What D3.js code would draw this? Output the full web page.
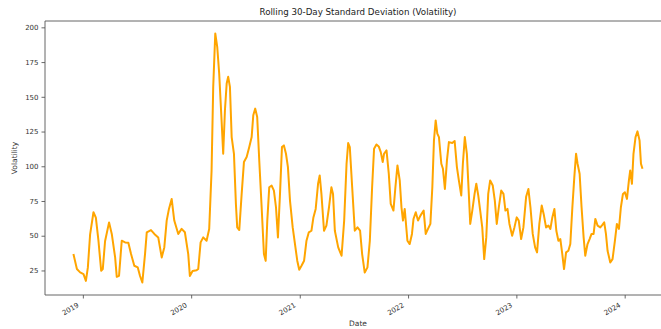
<!DOCTYPE html>
<html>
<head>
<meta charset="utf-8">
<script src="https://cdn.jsdelivr.net/npm/d3@7"></script>
<style>
  body { margin: 0; background: #fff; }
  svg { display: block; font-family: "DejaVu Sans", sans-serif; }
</style>
</head>
<body>
<div id="chart"></div>
<script>
// Dates as decimal years, rolling 30-day std values
const decimalYears = [
  2018.913, 2018.945, 2018.975, 2019.006, 2019.028, 2019.046, 2019.067, 2019.098, 2019.120, 2019.144,
  2019.169, 2019.184, 2019.205, 2019.242, 2019.267, 2019.298, 2019.313, 2019.334, 2019.359, 2019.390,
  2019.420, 2019.445, 2019.475, 2019.507, 2019.528, 2019.549, 2019.574, 2019.590, 2019.629, 2019.660,
  2019.696, 2019.728, 2019.752, 2019.774, 2019.795, 2019.820, 2019.844, 2019.881, 2019.912, 2019.942,
  2019.973, 2019.988, 2020.013, 2020.050, 2020.065, 2020.087, 2020.111, 2020.142, 2020.166, 2020.188,
  2020.203, 2020.222, 2020.240, 2020.258, 2020.280, 2020.295, 2020.311, 2020.327, 2020.341, 2020.357,
  2020.373, 2020.394, 2020.412, 2020.424, 2020.443, 2020.465, 2020.486, 2020.511, 2020.535, 2020.557,
  2020.572, 2020.590, 2020.608, 2020.627, 2020.649, 2020.670, 2020.686, 2020.701, 2020.719, 2020.741,
  2020.762, 2020.781, 2020.799, 2020.818, 2020.836, 2020.854, 2020.873, 2020.891, 2020.910, 2020.935,
  2020.956, 2020.977, 2020.995, 2021.016, 2021.040, 2021.062, 2021.083, 2021.108, 2021.126, 2021.147,
  2021.169, 2021.184, 2021.200, 2021.224, 2021.246, 2021.270, 2021.292, 2021.307, 2021.324, 2021.355,
  2021.386, 2021.410, 2021.432, 2021.447, 2021.462, 2021.484, 2021.508, 2021.533, 2021.557, 2021.576,
  2021.600, 2021.625, 2021.647, 2021.668, 2021.686, 2021.708, 2021.729, 2021.748, 2021.766, 2021.778,
  2021.801, 2021.822, 2021.840, 2021.865, 2021.883, 2021.902, 2021.923, 2021.939, 2021.953, 2021.969,
  2021.994, 2022.015, 2022.036, 2022.050, 2022.071, 2022.092, 2022.114, 2022.144, 2022.163, 2022.184,
  2022.206, 2022.224, 2022.239, 2022.255, 2022.270, 2022.285, 2022.307, 2022.322, 2022.340, 2022.359,
  2022.377, 2022.408, 2022.430, 2022.451, 2022.469, 2022.491, 2022.506, 2022.524, 2022.543, 2022.561,
  2022.574, 2022.593, 2022.614, 2022.630, 2022.648, 2022.666, 2022.685, 2022.703, 2022.722, 2022.740,
  2022.758, 2022.782, 2022.801, 2022.819, 2022.838, 2022.860, 2022.881, 2022.899, 2022.918, 2022.936,
  2022.961, 2022.982, 2023.003, 2023.022, 2023.044, 2023.065, 2023.090, 2023.111, 2023.130, 2023.151,
  2023.173, 2023.191, 2023.212, 2023.234, 2023.252, 2023.274, 2023.296, 2023.314, 2023.332, 2023.351,
  2023.369, 2023.388, 2023.406, 2023.424, 2023.440, 2023.459, 2023.480, 2023.498, 2023.517, 2023.535,
  2023.551, 2023.565, 2023.584, 2023.602, 2023.621, 2023.636, 2023.657, 2023.676, 2023.694, 2023.713,
  2023.729, 2023.750, 2023.775, 2023.796, 2023.811, 2023.827, 2023.842, 2023.867, 2023.888, 2023.910,
  2023.928, 2023.947, 2023.965, 2023.984, 2024.002, 2024.021, 2024.039, 2024.051, 2024.067, 2024.081,
  2024.100, 2024.118, 2024.137, 2024.150, 2024.164
];

const volatility = [
  36.8, 26, 23.6, 22.4, 17.5, 27, 51, 66.9, 63, 46.4,
  24.8, 26, 46, 59.6, 51.3, 34.4, 20.4, 21.2, 46.4, 45.2,
  45, 36.8, 28.4, 27.2, 21, 16.3, 36.8, 52.4, 54.1, 51.3,
  48.8, 34.4, 41.6, 60.9, 69.3, 76.5, 60.9, 51.3, 54.9, 52.5,
  36.8, 21, 24.6, 25.1, 26, 45.2, 48.8, 46.4, 54.9, 97,
  157.1, 195.6, 186, 166.8, 133, 109, 140.3, 159.6, 164.4, 157.1,
  121, 109, 72.9, 56, 54.1, 80.1, 103, 106.6, 113.8, 121,
  136.7, 141.5, 135.5, 104.2, 70.5, 36.8, 31.9, 60.9, 84.9, 86.1,
  82.5, 70.5, 48.8, 80.1, 113.8, 115, 109, 99.4, 75.3, 56,
  44, 32, 25.5, 28.4, 32, 46.4, 52.4, 53.6, 63.2, 69.3,
  87.4, 93.4, 80.1, 53.6, 57.3, 70.5, 84.9, 80.1, 53.6, 41.6,
  35.6, 60.9, 101.8, 116.7, 113.8, 84.9, 53.6, 56, 53.6, 36.8,
  23.5, 27.2, 46.4, 84.9, 112.6, 115.7, 114.3, 110.2, 103, 109,
  111.4, 94.6, 72.9, 68.1, 84.9, 100.6, 89.8, 70.5, 60.9, 69.3,
  46.4, 44, 51.3, 62, 66.9, 60.9, 64.5, 68.1, 51.3, 54.9,
  58.5, 84.9, 118.6, 133, 123.5, 121, 101.8, 98.2, 83.7, 104.2,
  117.4, 116.7, 118.2, 99.4, 89.8, 79, 101.8, 121, 109, 80.1,
  58.5, 68.1, 80.1, 87.4, 79, 68.1, 56, 33.2, 48.8, 80.1,
  89.8, 86.1, 75.3, 58.5, 70.5, 82.5, 80.1, 68.1, 69.3, 58.5,
  50, 56, 63.2, 60.9, 47.6, 56, 78, 83.7, 70.5, 51.3,
  41.6, 38, 58.5, 71.7, 65.7, 56, 57.3, 54.9, 63.2, 69.3,
  53.6, 46.4, 47.6, 36.8, 26, 38, 39.2, 44, 70.5, 92.2,
  109, 101.8, 94.6, 70.5, 48.8, 35.6, 44, 47.6, 51.3, 51.3,
  62.1, 57.3, 56, 58, 59.6, 51.3, 39.2, 30.8, 33.2, 46.4,
  58.5, 54.9, 70.5, 80.1, 81.3, 76.5, 89.8, 97, 87.4, 109,
  121, 125.1, 118.6, 101.8, 98.2
];

const yTicks = [25, 50, 75, 100, 125, 150, 175, 200];
const xTickYears = [2019, 2020, 2021, 2022, 2023, 2024];

function fromDecimalYear(t) {
    const yr = Math.floor(t);
    const start = new Date(yr, 0, 1);
    const end = new Date(yr + 1, 0, 1);
    return new Date(start.getTime() + (t - yr) * (end - start));
}

const data = decimalYears.map((t, i) => ({ date: fromDecimalYear(t), value: volatility[i] }));

const width = 661;
const height = 329;
const plot = { left: 45, right: 671, top: 21, bottom: 295 };

const svg = d3.select("#chart")
    .append("svg")
    .attr("width", width)
    .attr("height", height);

// matplotlib style 5% margins on both axes
const xExt = d3.extent(decimalYears);
const xPad = (xExt[1] - xExt[0]) * 0.05;
const xScale = d3.scaleTime()
    .domain([fromDecimalYear(xExt[0] - xPad), fromDecimalYear(xExt[1] + xPad)])
    .range([plot.left, plot.right]);

const yExt = d3.extent(volatility);
const yPad = (yExt[1] - yExt[0]) * 0.05;
const yScale = d3.scaleLinear()
    .domain([yExt[0] - yPad, yExt[1] + yPad])
    .range([plot.bottom, plot.top]);

// Line
const line = d3.line()
    .x((d) => xScale(d.date))
    .y((d) => yScale(d.value));

svg.append("path")
    .datum(data)
    .attr("fill", "none")
    .attr("stroke", "#FFA500")
    .attr("stroke-width", 2)
    .attr("stroke-linejoin", "round")
    .attr("d", line);

// Y axis
const yAxis = svg.append("g")
    .attr("transform", `translate(${plot.left},0)`)
    .call(d3.axisLeft(yScale).tickValues(yTicks).tickSize(3.5).tickPadding(3))
    .call((g) => g.select(".domain").remove());
yAxis.selectAll("text").attr("font-size", "7px").attr("fill", "#333").attr("font-family", "DejaVu Sans");
yAxis.selectAll("line").attr("stroke", "#444").attr("stroke-width", 0.8);

// X axis, labels rotated like autofmt_xdate
const xAxis = svg.append("g")
    .attr("transform", `translate(0,${plot.bottom})`)
    .call(d3.axisBottom(xScale)
        .tickValues(xTickYears.map((y) => new Date(y, 0, 1)))
        .tickFormat(d3.timeFormat("%Y"))
        .tickSize(3.5))
    .call((g) => g.select(".domain").remove());
xAxis.selectAll("line").attr("stroke", "#444").attr("stroke-width", 0.8);
xAxis.selectAll("text")
    .attr("font-size", "7px")
    .attr("fill", "#333")
    .attr("font-family", "DejaVu Sans")
    .attr("text-anchor", "end")
    .attr("dy", null)
    .attr("y", 0)
    .attr("transform", "translate(-4,11.5) rotate(-30)");

// Spines
const spine = svg.append("g").attr("stroke", "#555").attr("stroke-width", 0.9);
spine.append("line").attr("x1", plot.left).attr("x2", plot.left).attr("y1", plot.top).attr("y2", plot.bottom);
spine.append("line").attr("x1", plot.left).attr("x2", plot.right).attr("y1", plot.bottom).attr("y2", plot.bottom);
spine.append("line").attr("x1", plot.left).attr("x2", plot.right).attr("y1", plot.top).attr("y2", plot.top);
spine.append("line").attr("x1", plot.right).attr("x2", plot.right).attr("y1", plot.top).attr("y2", plot.bottom);

// Title and axis labels
const cx = (plot.left + plot.right) / 2;
svg.append("text")
    .attr("x", cx)
    .attr("y", 15)
    .attr("text-anchor", "middle")
    .attr("font-size", "8.7px")
    .attr("fill", "#222")
    .text("Rolling 30-Day Standard Deviation (Volatility)");

svg.append("text")
    .attr("x", cx)
    .attr("y", 326)
    .attr("text-anchor", "middle")
    .attr("font-size", "7.5px")
    .attr("fill", "#333")
    .text("Date");

svg.append("text")
    .attr("transform", `translate(17,${(plot.top + plot.bottom) / 2}) rotate(-90)`)
    .attr("text-anchor", "middle")
    .attr("font-size", "7.5px")
    .attr("fill", "#333")
    .text("Volatility");
</script>
</body>
</html>
